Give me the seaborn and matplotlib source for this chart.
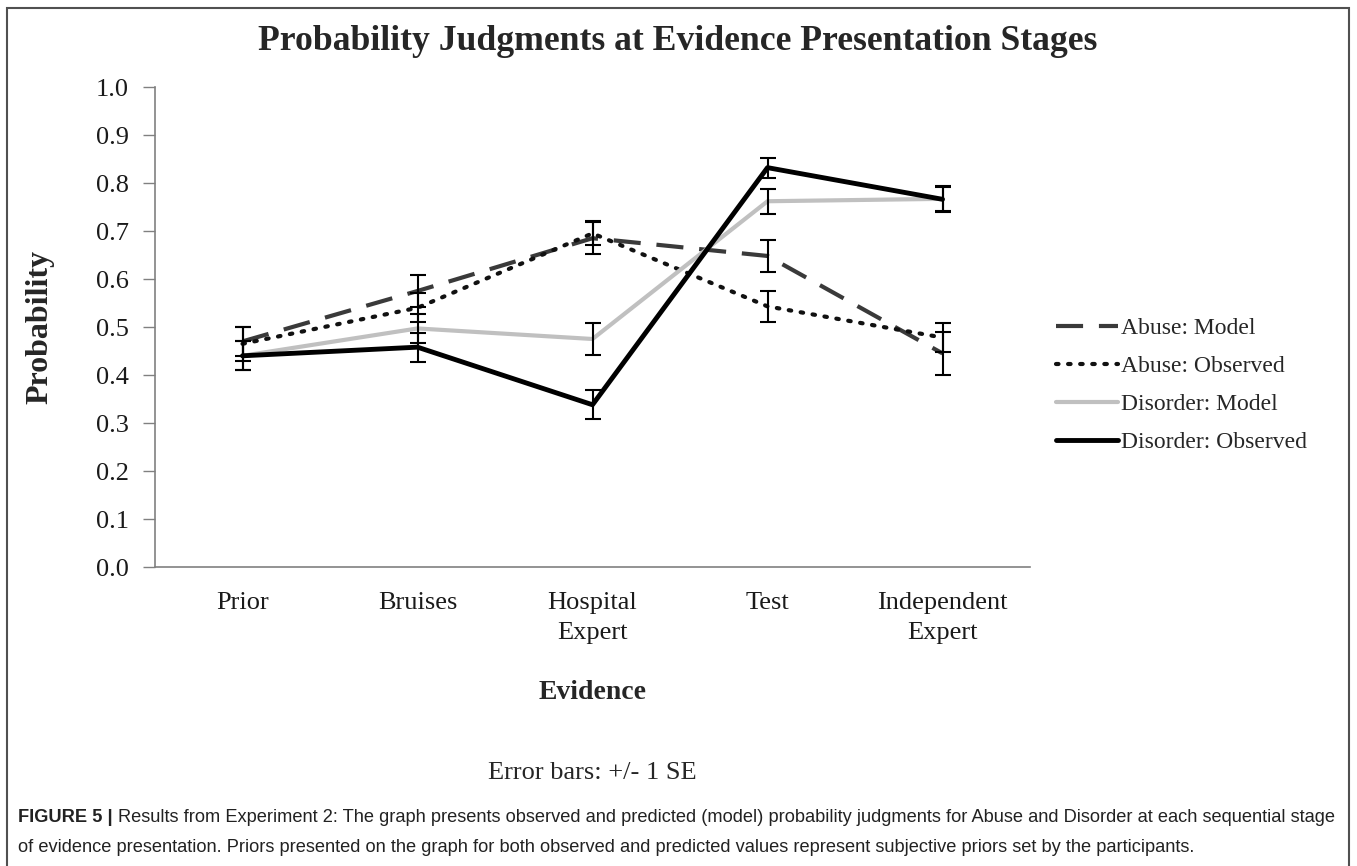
import matplotlib
matplotlib.use("Agg")
import matplotlib.pyplot as plt
import seaborn as sns
import pandas as pd
import numpy as np
from matplotlib.patches import Rectangle
from matplotlib.lines import Line2D

# ---- data ----
categories = ["Prior", "Bruises", "Hospital\nExpert", "Test", "Independent\nExpert"]
abuse_model = [0.470, 0.575, 0.685, 0.648, 0.445]
abuse_observed = [0.465, 0.540, 0.695, 0.543, 0.478]
disorder_model = [0.440, 0.497, 0.475, 0.762, 0.767]
disorder_observed = [0.440, 0.458, 0.338, 0.832, 0.766]
abuse_model_se = [0.030, 0.033, 0.033, 0.033, 0.045]
abuse_observed_se = [0.035, 0.030, 0.025, 0.033, 0.030]
disorder_model_se = [0.030, 0.030, 0.033, 0.026, 0.026]
disorder_observed_se = [0.030, 0.030, 0.030, 0.021, 0.026]
series_names = ["Abuse: Model", "Abuse: Observed", "Disorder: Model", "Disorder: Observed"]

sns.set_theme(style="white")
plt.rcParams['font.family'] = ['Liberation Serif', 'DejaVu Serif']

W, H = 1357, 866
fig = plt.figure(figsize=(W / 100, H / 100), dpi=100)
ax = fig.add_axes([155 / W, 1 - 567 / H, 875 / W, 480 / H])

x = np.arange(len(categories))
values = [abuse_model, abuse_observed, disorder_model, disorder_observed]
ses = [abuse_model_se, abuse_observed_se, disorder_model_se, disorder_observed_se]
styles = [
    dict(color="#3a3a3a", lw=3.0, dashes=(6.5, 3.8)),
    dict(color="#111111", lw=3.0, dashes=(0.6, 2.3)),
    dict(color="#c0c0c0", lw=3.0, dashes=None),
    dict(color="#000000", lw=3.5, dashes=None),
]

handles = []
for name, vals, se, st in zip(series_names, values, ses, styles):
    df = pd.DataFrame({"x": x, "y": vals})
    sns.lineplot(data=df, x="x", y="y", ax=ax, color=st["color"], lw=st["lw"],
                 legend=False, zorder=3)
    line = ax.lines[-1]
    if st["dashes"] is not None:
        line.set_dashes(st["dashes"])
        line.set_dash_capstyle("round" if st["dashes"][0] < 1 else "butt")
    ax.errorbar(x, vals, yerr=se, fmt="none", ecolor="black", elinewidth=1.5,
                capsize=6, capthick=1.5, zorder=4)
    h = Line2D([], [], color=st["color"], lw=st["lw"])
    if st["dashes"] is not None:
        h.set_dashes(st["dashes"])
        h.set_dash_capstyle("round" if st["dashes"][0] < 1 else "butt")
    handles.append(h)

ax.set_xlim(-0.5, 4.5)
ax.set_ylim(0, 1.0)
ax.set_yticks(np.arange(0, 1.01, 0.1))
ax.set_yticklabels([f"{v:.1f}" for v in np.arange(0, 1.01, 0.1)])
ax.set_xticks(x)
ax.set_xticklabels(categories)
ax.tick_params(axis="y", which="major", length=9, width=1, color="#808080",
               direction="out", left=True, pad=10, labelsize=19, labelcolor="#1a1a1a")
ax.tick_params(axis="x", length=0, pad=18, labelsize=19, labelcolor="#1a1a1a")
for lab in ax.get_xticklabels():
    lab.set_linespacing(1.45)
for side in ["top", "right"]:
    ax.spines[side].set_visible(False)
for side in ["left", "bottom"]:
    ax.spines[side].set_color("#808080")
    ax.spines[side].set_linewidth(1.2)
ax.grid(False)

ax.set_xlabel("Evidence", fontsize=20, fontweight="bold", labelpad=26)
ax.set_ylabel("Probability", fontsize=23, fontweight="bold", labelpad=30)

fig.text(678 / W, 1 - 41 / H,
         "Probability Judgments at Evidence Presentation Stages",
         ha="center", va="center", fontsize=25.7, fontweight="bold")

leg = ax.legend(handles, series_names, loc="upper left",
                bbox_to_anchor=(1047 / W, 1 - 308 / H), bbox_transform=fig.transFigure,
                frameon=False, fontsize=17, handlelength=2.6, handletextpad=0.15,
                labelspacing=0.7, borderaxespad=0)

fig.text(592 / W, 1 - 773 / H, "Error bars: +/- 1 SE", ha="center", va="center",
         fontsize=19)

# outer frame
fig.patches.append(Rectangle((7 / W, -0.05), (1349 - 7) / W, 1.05 - 8 / H,
                             transform=fig.transFigure, fill=False,
                             edgecolor="#505050", lw=1.5))

# caption
cap_font = ['Liberation Sans', 'DejaVu Sans']
renderer = fig.canvas.get_renderer()
cap_size = 14.5
t1 = fig.text(18 / W, 1 - 817 / H, "FIGURE 5 |", ha="left", va="center",
              fontsize=cap_size, fontweight="bold", family=cap_font, color="#222222")
t2 = fig.text(0, 1 - 817 / H,
              "Results from Experiment 2: The graph presents observed and predicted (model) probability judgments for Abuse and Disorder at each sequential stage",
              ha="left", va="center", fontsize=cap_size, family=cap_font, color="#222222")
t3 = fig.text(18 / W, 1 - 847 / H,
              "of evidence presentation. Priors presented on the graph for both observed and predicted values represent subjective priors set by the participants.",
              ha="left", va="center", fontsize=cap_size, family=cap_font, color="#222222")
# fit first line to end at x = 1340 px
for _ in range(3):
    bb1 = t1.get_window_extent(renderer=renderer)
    t2.set_x((bb1.x1 + 5) / W)
    bb2 = t2.get_window_extent(renderer=renderer)
    scale = (1340 - 18) / (bb2.x1 - 18)
    cap_size *= scale
    for t in (t1, t2, t3):
        t.set_fontsize(cap_size)
bb1 = t1.get_window_extent(renderer=renderer)
t2.set_x((bb1.x1 + 5) / W)

fig.savefig("out.png", dpi=100)
